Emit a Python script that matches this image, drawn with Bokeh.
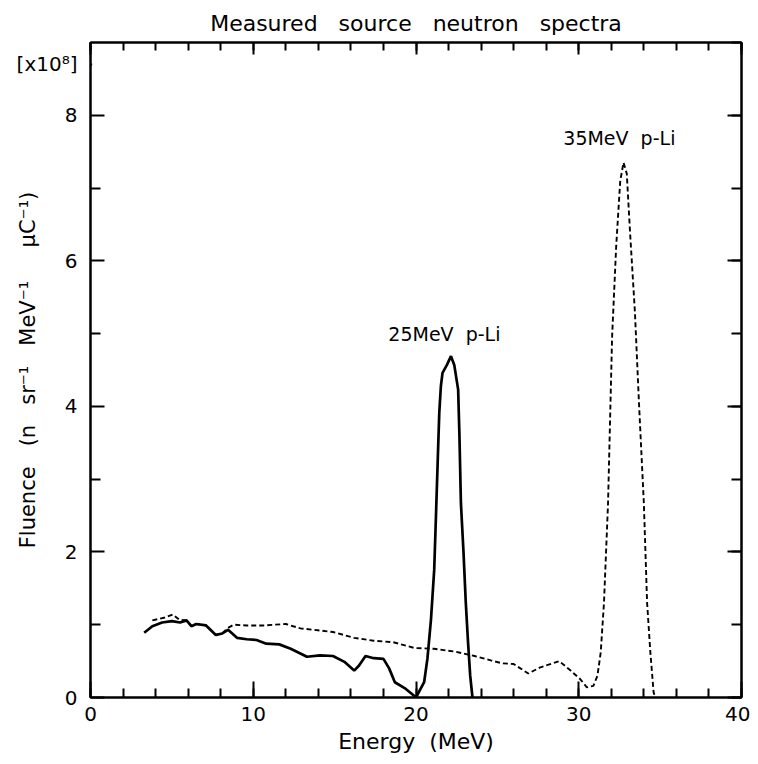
from bokeh.plotting import figure
from bokeh.models import (Range1d, LinearAxis, SingleIntervalTicker, FixedTicker, Label,
                          CustomJSTickFormatter, BoxAnnotation)
from bokeh.embed import file_html
from bokeh.resources import INLINE

# 25 MeV p-Li source spectrum (solid)
energy_25 = [3.3, 3.8, 4.4, 5.0, 5.5, 5.9, 6.2, 6.5, 7.1, 7.7, 8.1, 8.45, 9.0, 9.6,
             10.2, 10.8, 11.6, 12.3, 13.3, 14.1, 14.9, 15.6, 16.2, 16.5, 16.9, 17.4,
             18.0, 18.35, 18.7, 19.3, 19.9, 20.0, 20.5, 20.7, 20.92, 21.12, 21.22,
             21.33, 21.43, 21.53, 21.63, 21.9, 22.15, 22.35, 22.59, 22.67, 22.76,
             22.92, 23.06, 23.2, 23.33, 23.47]
fluence_25 = [0.89, 0.98, 1.03, 1.05, 1.03, 1.06, 0.98, 1.01, 0.99, 0.86, 0.88, 0.93,
              0.82, 0.80, 0.79, 0.74, 0.73, 0.67, 0.56, 0.58, 0.57, 0.49, 0.37, 0.44,
              0.57, 0.54, 0.53, 0.40, 0.21, 0.13, 0.02, 0.0, 0.21, 0.53, 1.07, 1.76,
              2.45, 3.22, 3.91, 4.28, 4.46, 4.57, 4.69, 4.57, 4.23, 3.59, 2.67, 1.99,
              1.30, 0.75, 0.30, 0.0]

# 35 MeV p-Li source spectrum (dashed)
energy_35 = [3.8, 4.2, 4.6, 5.05, 5.45, 5.9, 6.2, 6.5, 7.1, 7.7, 8.1, 8.4, 8.8, 9.6,
             10.6, 12.0, 12.9, 13.7, 14.9, 16.2, 17.4, 18.6, 19.9, 21.1, 22.4, 23.6,
             24.6, 25.3, 26.0, 26.9, 27.6, 28.8, 29.5, 30.1, 30.5, 30.9, 31.15, 31.35,
             31.55, 31.8, 31.95, 32.05, 32.3, 32.55, 32.75, 32.95, 33.15, 33.45, 33.7,
             34.0, 34.2, 34.4, 34.6, 34.7]
fluence_35 = [1.06, 1.08, 1.10, 1.14, 1.07, 1.06, 0.98, 1.01, 0.99, 0.86, 0.88, 0.95,
              1.0, 0.99, 0.99, 1.01, 0.95, 0.93, 0.90, 0.82, 0.78, 0.76, 0.68, 0.67,
              0.63, 0.57, 0.51, 0.47, 0.46, 0.33, 0.41, 0.50, 0.37, 0.25, 0.14, 0.16,
              0.30, 0.62, 1.30, 2.67, 4.05, 4.96, 6.2, 7.1, 7.35, 7.2, 6.4, 5.3, 4.05,
              2.67, 1.30, 0.62, 0.07, 0.0]

x_limits = (0, 40)
y_limits = (0, 9)

y_ticks = [0, 2, 4, 6, 8]
y_tick_labels = ["0", "2", "4", "6", "8"]
y_minor_ticks = [1, 3, 5, 7]
scale_text = "[x10\u2078]"
scale_level = 8.7  # height of the "[x10^8]" multiplier note on the y axis

NB = "\u00a0"
title_text = f"Measured {NB}{NB}source {NB}{NB}neutron {NB}{NB}spectra"
x_label = f"Energy {NB}(MeV)"
y_label = (f"Fluence {NB}{NB}(n {NB}{NB}sr\u207b\u00b9 {NB}{NB}MeV\u207b\u00b9 {NB}{NB}{NB}{NB}"
           f"\u03bcC\u207b\u00b9)")
label_25 = f"25MeV {NB}p-Li"
label_35 = f"35MeV {NB}p-Li"
label_25_pos = (18.3, 5.0)
label_35_pos = (29.05, 7.69)

FONT = "DejaVu Sans"

p = figure(width=750, height=756, output_backend="svg", toolbar_location=None,
           x_range=Range1d(*x_limits), y_range=Range1d(*y_limits),
           x_axis_label=x_label, y_axis_label=y_label,
           min_border_left=90, min_border_right=9, min_border_top=42,
           min_border_bottom=59)
p.background_fill_color = "white"
p.border_fill_color = "white"
p.grid.visible = False
p.outline_line_color = "black"
p.outline_line_width = 2
p.outline_line_alpha = 1.0

p.title.text = title_text
p.title.align = "center"
p.title.text_font = FONT
p.title.text_font_size = "22px"
p.title.text_font_style = "normal"
p.title.text_color = "black"
p.title.standoff = 14


def style_axis(ax, major_in, minor_in):
    ax.axis_line_width = 2
    ax.axis_line_color = "black"
    ax.major_tick_in = major_in
    ax.major_tick_out = 0
    ax.minor_tick_in = minor_in
    ax.minor_tick_out = 0
    ax.major_tick_line_width = 2
    ax.minor_tick_line_width = 2
    ax.major_tick_line_color = "black"
    ax.minor_tick_line_color = "black"
    ax.major_label_text_font = FONT
    ax.major_label_text_font_size = "20px"
    ax.major_label_text_color = "black"
    ax.axis_label_text_font = FONT
    ax.axis_label_text_font_size = "21px"
    ax.axis_label_text_font_style = "normal"
    ax.axis_label_text_color = "black"


xaxis = p.xaxis[0]
yaxis = p.yaxis[0]
xaxis.ticker = SingleIntervalTicker(interval=10, num_minor_ticks=5)
yaxis.ticker = FixedTicker(ticks=y_ticks + [scale_level], minor_ticks=y_minor_ticks)
yaxis.formatter = CustomJSTickFormatter(
    args=dict(tick_values=y_ticks + [scale_level], tick_texts=y_tick_labels + [scale_text]),
    code="""
        for (let i = 0; i < tick_values.length; i++) {
            if (Math.abs(tick_values[i] - tick) < 1e-6) { return tick_texts[i] }
        }
        return ''
    """)
style_axis(xaxis, 16, 9)
style_axis(yaxis, 14, 10)
xaxis.axis_label_text_font_size = "22px"
xaxis.major_label_standoff = 9
xaxis.axis_label_standoff = 5
yaxis.major_label_standoff = 13
yaxis.axis_label_standoff = -26

blank = CustomJSTickFormatter(code="return ''")
top = LinearAxis(ticker=SingleIntervalTicker(interval=10, num_minor_ticks=5), formatter=blank)
right = LinearAxis(ticker=SingleIntervalTicker(interval=2, num_minor_ticks=2), formatter=blank)
for ax, mj, mn in ((top, 12, 8), (right, 14, 10)):
    style_axis(ax, mj, mn)
    ax.major_label_text_font_size = "1px"
    ax.major_label_standoff = 0
p.add_layout(top, "above")
p.add_layout(right, "right")

# white patch hiding the tick mark that carries the "[x10^8]" note
p.add_layout(BoxAnnotation(left=0.1, right=1.2, bottom=scale_level - 0.12,
                           top=scale_level + 0.12, fill_color="white", fill_alpha=1.0,
                           line_color=None, level="overlay"))

p.line(energy_35, fluence_35, line_width=1.9, line_dash="5 3", color="black")
p.line(energy_25, fluence_25, line_width=2.7, color="black")

for txt, pos in ((label_25, label_25_pos), (label_35, label_35_pos)):
    p.add_layout(Label(x=pos[0], y=pos[1], text=txt, text_font=FONT,
                       text_font_size="19px", text_align="left",
                       text_baseline="alphabetic", text_color="black"))

open("out.html", "w").write(file_html(p, INLINE))
